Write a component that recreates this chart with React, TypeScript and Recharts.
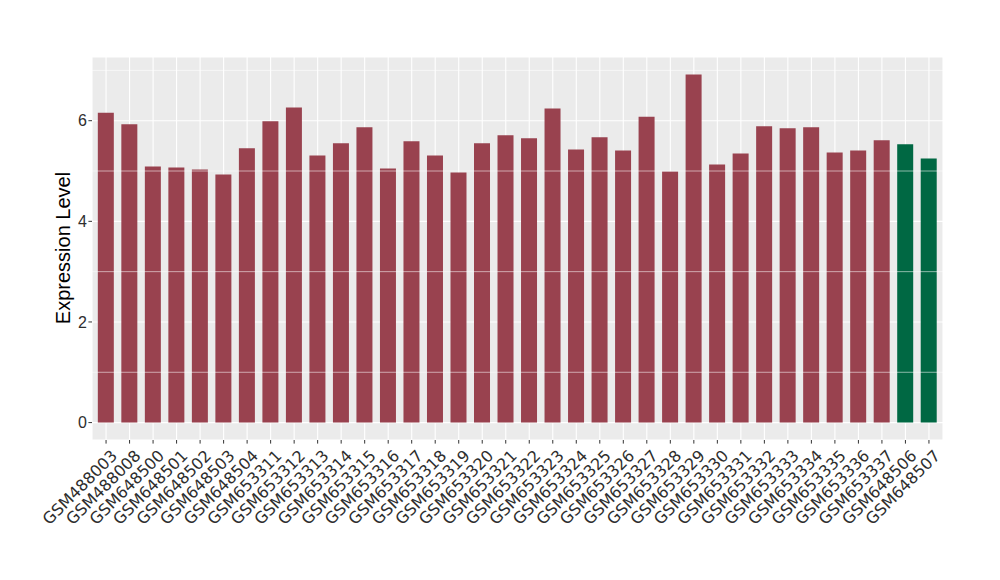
import React from 'react';
import { BarChart, Bar, XAxis, YAxis, CartesianGrid, ReferenceLine, Cell } from 'recharts';

const samples = [
  'GSM488003', 'GSM488008', 'GSM648500', 'GSM648501', 'GSM648502', 'GSM648503', 'GSM648504',
  'GSM653311', 'GSM653312', 'GSM653313', 'GSM653314', 'GSM653315', 'GSM653316', 'GSM653317',
  'GSM653318', 'GSM653319', 'GSM653320', 'GSM653321', 'GSM653322', 'GSM653323', 'GSM653324',
  'GSM653325', 'GSM653326', 'GSM653327', 'GSM653328', 'GSM653329', 'GSM653330', 'GSM653331',
  'GSM653332', 'GSM653333', 'GSM653334', 'GSM653335', 'GSM653336', 'GSM653337', 'GSM648506',
  'GSM648507',
];

const expression = [
  6.16, 5.93, 5.09, 5.07, 5.03, 4.93, 5.45, 5.99, 6.26, 5.31, 5.55, 5.87, 5.05, 5.59, 5.31, 4.97,
  5.55, 5.71, 5.65, 6.24, 5.43, 5.67, 5.41, 6.08, 4.99, 6.92, 5.13, 5.35, 5.89, 5.85, 5.87, 5.37,
  5.41, 5.61, 5.53, 5.25,
];

// group per sample: 0 = first group, 1 = second group
const groups = [
  0, 0, 0, 0, 0, 0, 0, 0, 0, 0, 0, 0, 0, 0, 0, 0, 0, 0, 0, 0, 0, 0, 0, 0, 0, 0, 0, 0, 0, 0, 0, 0,
  0, 0, 1, 1,
];

const groupColors = ['#99424F', '#006843'];
const yTicks = [0, 2, 4, 6];
const yMinor = [1, 3, 5, 7];
const yDomain = [-0.346, 7.266];

const data = samples.map((s, i) => ({ sample: s, value: expression[i], group: groups[i] }));

const XTick = (props: any) => {
  const { x, y, payload } = props;
  return (
    <g transform={`translate(${x + 4},${y + 3})`}>
      <text
        transform="rotate(-45)"
        textAnchor="end"
        dy="0.72em"
        fill="#2E2E2E"
        fontSize={16}
        fontFamily="DejaVu Sans"
      >
        {payload.value}
      </text>
    </g>
  );
};

const YLabel = (props: any) => {
  const cy = 248;
  const cx = 70;
  return (
    <text
      x={cx}
      y={cy}
      transform={`rotate(-90, ${cx}, ${cy})`}
      textAnchor="middle"
      fontSize={20}
      fontFamily="Liberation Sans"
      fill="#000"
    >
      Expression Level
    </text>
  );
};

export default function App() {
  return (
    <div style={{ position: 'absolute', left: 0, top: 0, width: 1000, height: 580, background: '#fff' }}>
      <BarChart
        width={1000}
        height={580}
        data={data}
        margin={{ top: 57, right: 57, left: 0, bottom: 0 }}
        barCategoryGap="15%"
      >
        <CartesianGrid fill="#EBEBEB" stroke="#FFFFFF" strokeWidth={1.1} />
        {yMinor.map((v) => (
          <ReferenceLine key={v} y={v} stroke="#FFFFFF" strokeWidth={0.55} />
        ))}
        <XAxis
          dataKey="sample"
          interval={0}
          height={140}
          axisLine={false}
          tickSize={3.6}
          tickLine={{ stroke: '#333333', strokeWidth: 1 }}
          tick={<XTick />}
          padding={{ left: 2.3, right: 2.3 }}
        />
        <YAxis
          width={92}
          domain={yDomain}
          ticks={yTicks}
          allowDataOverflow
          axisLine={false}
          tickSize={3.6}
          tickMargin={1.5}
          tickLine={{ stroke: '#333333', strokeWidth: 1 }}
          tick={{ fill: '#2E2E2E', fontSize: 16, fontFamily: 'Liberation Sans' }}
          label={<YLabel />}
        />
        <Bar dataKey="value" isAnimationActive={false}>
          {data.map((d, i) => (
            <Cell key={i} fill={groupColors[d.group]} />
          ))}
        </Bar>
      </BarChart>
    </div>
  );
}
